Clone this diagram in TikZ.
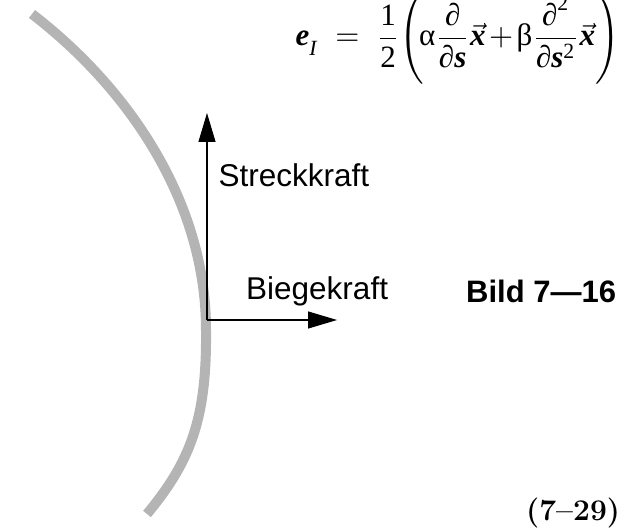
\documentclass[tikz,border=0pt]{standalone}
\usepackage{amsmath}
\usepackage{fontspec}
\newfontfamily\sansf{Liberation Sans}
\newfontfamily\tms{Liberation Serif}
\usetikzlibrary{arrows.meta}
\definecolor{beamgray}{RGB}{180,180,180}
\newcommand\Tx[1]{\text{\tms #1}}
\newcommand\Bi[1]{\text{\tms\bfseries\itshape #1}}
\begin{document}
\begin{tikzpicture}[x=1pt,y=-1pt,
  force/.style={line width=1.1pt,-{Triangle[length=29pt,width=17pt]}},
  lbl/.style={font=\sansf\fontsize{31.5}{36}\selectfont, anchor=base west, inner sep=0pt},
  beam/.style={line width=10pt, draw=beamgray}]
\useasboundingbox (0,0) rectangle (635,529);
\clip (0,0) rectangle (635,529);
\coordinate (btop) at (32,14);
\coordinate (bmid) at (206,330);
\coordinate (bbot) at (147,514);
\draw[beam] (btop) .. controls (127,87) and (206,200) .. (bmid)
  .. controls (207,420) and (190,462) .. (bbot);
\coordinate (corner) at (207,320);
\coordinate (up) at (207,113);
\coordinate (right) at (337,320);
\draw[force] (corner) -- (up);
\draw[force] (corner) -- (right);
\node[lbl] (streck) at (218.5,187) {Streckkraft};
\node[lbl] (biege) at (246,299.5) {Biegekraft};
\node[anchor=base west, inner sep=0pt, font=\sansf\bfseries\fontsize{31}{36}\selectfont] (bild) at (466,303) {Bild 7—16};
\node[anchor=base west, inner sep=0pt, font=\bfseries\fontsize{30}{34}\selectfont] (num) at (526,520) {(7–29)};
\node[anchor=base west, inner sep=0pt, scale=3.1] (eq) at (295,46) {$\displaystyle \Bi{e}_{\Tx{\raisebox{-1.5pt}{\itshape I}}} \;=\; \frac{\Tx{1}}{\Tx{2}}\!\left(\vcenter{\hbox{\rule{0pt}{29pt}}}\!\Tx{α}\frac{\Tx{∂}}{\Tx{∂}\Bi{s}}\vec{\Bi{x}}\mathbin{\mkern-2mu+\mkern-2mu}\Tx{β}\frac{\Tx{∂}^{\Tx{2}}}{\Tx{∂}\Bi{s}^{\Tx{2}}}\vec{\Bi{x}}\right)$};
\end{tikzpicture}
\end{document}
